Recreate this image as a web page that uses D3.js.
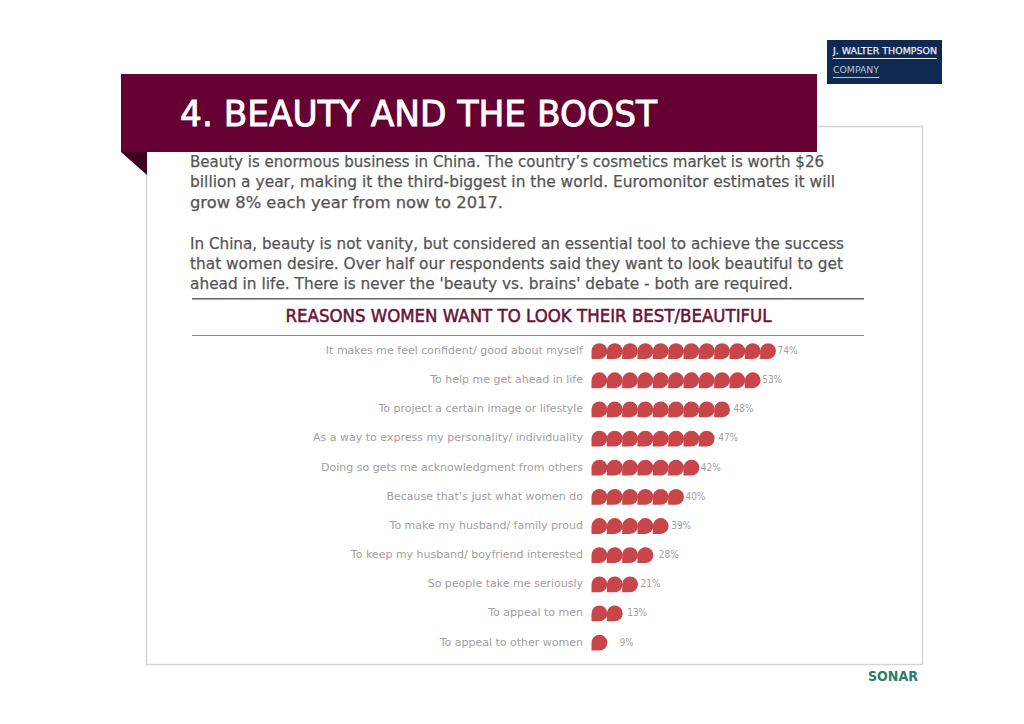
<!DOCTYPE html>
<html><head><meta charset="utf-8">
<script src="https://cdnjs.cloudflare.com/ajax/libs/d3/7.8.5/d3.min.js"></script>
<style>html,body{margin:0;padding:0;background:#fff}svg{display:block}</style></head>
<body><svg id="c" width="1024" height="724"></svg>
<script>
const categories = ["It makes me feel confident/ good about myself","To help me get ahead in life","To project a certain image or lifestyle","As a way to express my personality/ individuality","Doing so gets me acknowledgment from others","Because that\u2019s just what women do","To make my husband/ family proud","To keep my husband/ boyfriend interested","So people take me seriously","To appeal to men","To appeal to other women"];
const percents = [74,53,48,47,42,40,39,28,21,13,9];
const iconCounts = [12,11,9,8,7,6,5,4,3,2,1];
const bodyLines = ["Beauty is enormous business in China. The country\u2019s cosmetics market is worth $26","billion a year, making it the third-biggest in the world. Euromonitor estimates it will","grow 8% each year from now to 2017.","","In China, beauty is not vanity, but considered an essential tool to achieve the success","that women desire. Over half our respondents said they want to look beautiful to get","ahead in life. There is never the 'beauty vs. brains' debate - both are required."];
const bodyWidths = [634,645,313,0,654,653,603];
const labelGaps = [2,2,4,4,2,2,3,6,3,5,13];

const font = "'DejaVu Sans',sans-serif";
const svg = d3.select("#c");
const rect=(x,y,w,h,f)=>svg.append("rect").attr("x",x).attr("y",y).attr("width",w).attr("height",h).attr("fill",f);

// frame
svg.append("rect").attr("x",146.5).attr("y",126.5).attr("width",776).attr("height",538).attr("fill","#fff").attr("stroke","#d2d6d6").attr("stroke-width",1.5);
// banner
svg.append("path").attr("d","M121,152H147V175Z").attr("fill","#3d0020");
rect(121,74,696,78,"#660033");
svg.append("text").attr("x",180).attr("y",125.5).attr("font-family",font).attr("font-size",35).attr("fill","#fff").attr("stroke","#fff").attr("stroke-width",0.9).attr("textLength",477).attr("lengthAdjust","spacingAndGlyphs").text("4. BEAUTY AND THE BOOST");

// logos
rect(827,40,115,44,"#0f2a52");
svg.append("text").attr("x",833).attr("y",54).attr("font-family",font).attr("font-size",9.5).attr("fill","#e8edf4").attr("stroke","#e8edf4").attr("stroke-width",0.25).attr("textLength",104).attr("lengthAdjust","spacingAndGlyphs").text("J. WALTER THOMPSON");
rect(833,58,104,1,"#e8edf4");
svg.append("text").attr("x",833).attr("y",73).attr("font-family",font).attr("font-size",9.5).attr("fill","#b9c4d2").attr("textLength",46).attr("lengthAdjust","spacingAndGlyphs").text("COMPANY");
rect(833,77,46,1,"#b9c4d2");
svg.append("text").attr("x",868).attr("y",681).attr("font-family",font).attr("font-size",14).attr("font-weight",700).attr("fill","#2f7d6c").attr("textLength",50).attr("lengthAdjust","spacingAndGlyphs").text("SONAR");

// body
svg.append("g").selectAll("text").data(bodyLines).join("text")
  .attr("x",190).attr("y",(d,i)=>167+i*20.4).attr("font-family",font).attr("font-size",15).attr("fill","#555").attr("stroke","#555").attr("stroke-width",0.25)
  .attr("textLength",(d,i)=>bodyWidths[i]||null).attr("lengthAdjust","spacingAndGlyphs").text(d=>d);

// title + rules
rect(192,298,672,1.5,"#666");
rect(192,335,672,1,"#888");
svg.append("text").attr("x",528.5).attr("y",322).attr("text-anchor","middle").attr("font-family",font).attr("font-size",17).attr("fill","#6a1238").attr("stroke","#6a1238").attr("stroke-width",0.5).attr("textLength",486).attr("lengthAdjust","spacingAndGlyphs").text("REASONS WOMEN WANT TO LOOK THEIR BEST/BEAUTIFUL");

// chart
const y = d3.scalePoint().domain(categories).range([350.5,642]);
const x = d3.scaleLinear().domain([0,12]).range([591.5,775.5]);
const r = 7.9;
const drop = `M0,0A${r},${r} 0 1 1 ${r},${r}H0Z`;

const rows = svg.append("g").selectAll("g").data(categories).join("g").attr("transform",d=>`translate(0,${y(d)})`);
rows.append("text").attr("x",583).attr("y",3.5).attr("text-anchor","end").attr("font-family",font).attr("font-size",11).attr("fill","#a0a0a0").text(d=>d);
rows.each(function(d,i){
  d3.select(this).selectAll("path").data(d3.range(iconCounts[i])).join("path")
    .attr("d",drop).attr("fill","#c8464a")
    .attr("transform",k=>`translate(${x(k)},0.6)`);
  const pct = String(percents[i]);
  d3.select(this).append("text").attr("x",x(iconCounts[i])+labelGaps[i]).attr("y",3.5).attr("font-family",font).attr("font-size",10.5).attr("fill","#a0a0a0")
    .attr("textLength",pct.length*6.5+7).attr("lengthAdjust","spacingAndGlyphs").text(pct+"%");
});
</script></body></html>
